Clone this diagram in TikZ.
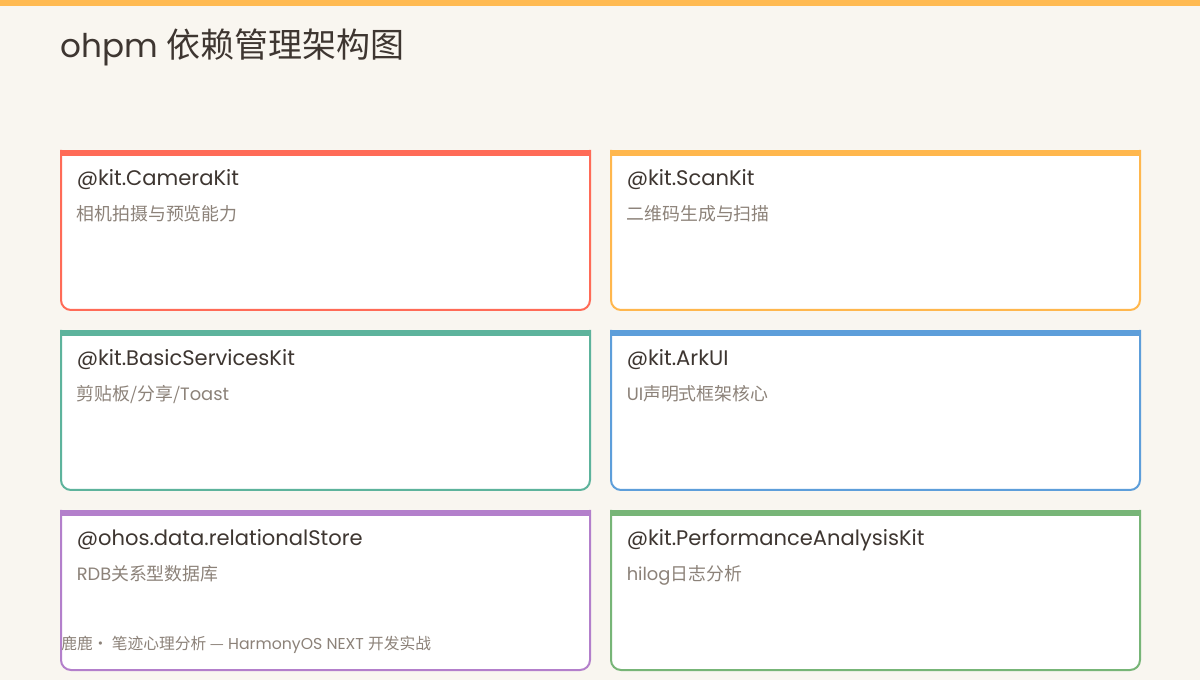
\documentclass[tikz,border=0pt]{standalone}
\usepackage{fontspec}
\setmainfont{Poppins}
\newfontfamily\cjk{Noto Sans CJK SC}
\definecolor{bgc}{HTML}{F9F6F0}
\definecolor{topbar}{HTML}{FFBA52}
\definecolor{cred}{HTML}{FF6B57}
\definecolor{corange}{HTML}{FFB74D}
\definecolor{cteal}{HTML}{5DB39C}
\definecolor{cblue}{HTML}{5D9EDA}
\definecolor{cpurple}{HTML}{B37FCB}
\definecolor{cgreen}{HTML}{77B577}
\definecolor{titlec}{HTML}{3E3631}
\definecolor{subc}{HTML}{8C8279}
\tikzset{
  cardtitle/.style={anchor=base west, inner sep=0pt, text=titlec, font=\fontsize{15.8pt}{18pt}\selectfont},
  cardsub/.style={anchor=base west, inner sep=0pt, text=subc, font=\fontsize{13.4pt}{15pt}\selectfont},
  cardline/.style={line width=1.5pt, rounded corners=7.5pt, fill=white},
}
\newcommand{\mycard}[6]{%
  % #1 x, #2 y, #3 colour, #4 name, #5 title, #6 subtitle
  \filldraw[cardline, draw=#3] (#1+1,#2) -- (#1+1,#2+160) -- (#1+530,#2+160) -- (#1+530,#2);
  \fill[#3] (#1,#2) rectangle (#1+531,#2+6);
  \node[cardtitle] (#4t) at (#1+16.5,#2+36) {#5};
  \node[cardsub] (#4s) at (#1+16.5,#2+71) {#6};
}
\begin{document}
\begin{tikzpicture}[x=0.75pt,y=-0.75pt]
\useasboundingbox (0,0) rectangle (1200,680);
\fill[bgc] (0,0) rectangle (1200,680);
\fill[topbar] (0,0) rectangle (1200,6);
\node[anchor=base west, inner sep=0pt, text=titlec, font=\fontsize{24.5pt}{28pt}\selectfont] (title) at (60,58) {ohpm {\cjk\fontsize{25.5pt}{28pt}\selectfont 依赖管理架构图}};
\mycard{60}{150}{cred}{camera}{@kit.CameraKit}{\cjk 相机拍摄与预览能力}
\mycard{610}{150}{corange}{scan}{@kit.ScanKit}{\cjk 二维码生成与扫描}
\mycard{60}{330}{cteal}{basic}{@kit.BasicServicesKit}{{\cjk 剪贴板/分享/}Toast}
\mycard{610}{330}{cblue}{ark}{@kit.ArkUI}{UI{\cjk 声明式框架核心}}
\mycard{60}{510}{cpurple}{rdb}{@ohos.data.relationalStore}{RDB{\cjk 关系型数据库}}
\mycard{610}{510}{cgreen}{perf}{@kit.PerformanceAnalysisKit}{hilog{\cjk 日志分析}}
\node[anchor=base west, inner sep=0pt, text=subc, font=\fontsize{11.8pt}{13pt}\selectfont] (footer) at (61,649) {{\cjk 鹿鹿·\ 笔迹心理分析 —} HarmonyOS NEXT {\cjk 开发实战}};
\end{tikzpicture}
\end{document}
